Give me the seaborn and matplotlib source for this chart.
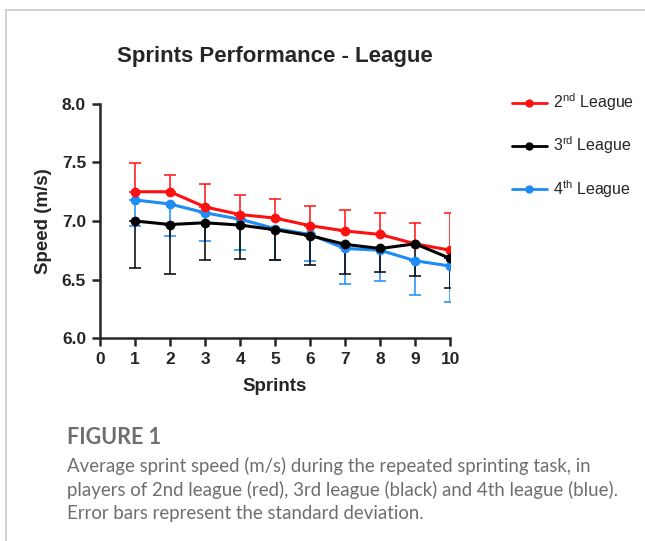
import numpy as np
import pandas as pd
import matplotlib.pyplot as plt
import seaborn as sns
from matplotlib.lines import Line2D

sprints = [1, 2, 3, 4, 5, 6, 7, 8, 9, 10]
mean_2nd = [7.25, 7.25, 7.12, 7.055, 7.025, 6.96, 6.915, 6.885, 6.805, 6.75]
sd_2nd = [0.245, 0.14, 0.20, 0.17, 0.165, 0.17, 0.18, 0.185, 0.18, 0.32]
mean_3rd = [7.00, 6.97, 6.985, 6.965, 6.925, 6.875, 6.80, 6.765, 6.805, 6.68]
sd_3rd = [0.40, 0.42, 0.315, 0.29, 0.26, 0.25, 0.25, 0.205, 0.275, 0.255]
mean_4th = [7.18, 7.145, 7.07, 7.015, 6.935, 6.885, 6.765, 6.75, 6.66, 6.615]
sd_4th = [0.22, 0.275, 0.24, 0.26, 0.27, 0.23, 0.30, 0.26, 0.29, 0.31]

sns.set_style("ticks")
plt.rcParams["font.family"] = ["Liberation Sans", "DejaVu Sans"]
plt.rcParams["mathtext.fontset"] = "custom"
plt.rcParams["mathtext.rm"] = "Liberation Sans"

fig = plt.figure(figsize=(6.45, 5.41), dpi=100)
ax = fig.add_axes([0.155, 0.3752, 0.543, 0.4326])

red = "#ff1010"
blk = "#000000"
blu = "#1e8cf5"

# (label, means, sds, colour, upper error bar?)
series = [
    ("4$^{\\mathregular{th}}$ League", mean_4th, sd_4th, blu, False),
    ("2$^{\\mathregular{nd}}$ League", mean_2nd, sd_2nd, red, True),
    ("3$^{\\mathregular{rd}}$ League", mean_3rd, sd_3rd, blk, False),
]

for label, m, s, c, up in series:
    m = np.array(m)
    s = np.array(s)
    yerr = [np.zeros_like(s), s] if up else [s, np.zeros_like(s)]
    ax.errorbar(sprints, m, yerr=yerr, fmt="none", ecolor=c, elinewidth=1.1,
                capsize=4, capthick=1.1, zorder=2)
    df = pd.DataFrame({"Sprints": sprints, "Speed": m})
    sns.lineplot(data=df, x="Sprints", y="Speed", color=c, linewidth=2.2,
                 marker="o", markersize=7, markeredgewidth=0, ax=ax, zorder=3)

ax.set_xlim(0, 10)
ax.set_ylim(6.0, 8.0)
ax.set_xticks(range(0, 11))
ax.set_yticks([6.0, 6.5, 7.0, 7.5, 8.0])
ax.set_yticklabels(["6.0", "6.5", "7.0", "7.5", "8.0"])
for sp in ["top", "right"]:
    ax.spines[sp].set_visible(False)
for sp in ["left", "bottom"]:
    ax.spines[sp].set_linewidth(1.8)
    ax.spines[sp].set_clip_on(False)
ax.tick_params(width=1.8, length=6, labelsize=12.5, pad=4)
for t in ax.get_xticklabels() + ax.get_yticklabels():
    t.set_fontweight("bold")

ax.set_xlabel("Sprints", fontsize=13.5, fontweight="bold", labelpad=8)
ax.set_ylabel("Speed (m/s)", fontsize=13.5, fontweight="bold", labelpad=7)
ax.set_title("Sprints Performance - League", fontsize=16, fontweight="bold", pad=30)

handles = [Line2D([], [], color=c, lw=2, marker="o", markersize=5)
           for c in [red, blk, blu]]
labels = ["2$^{\\mathregular{nd}}$ League", "3$^{\\mathregular{rd}}$ League",
          "4$^{\\mathregular{th}}$ League"]
ax.legend(handles, labels, loc="upper left", bbox_to_anchor=(1.135, 1.115),
          frameon=False, fontsize=11.5, labelspacing=1.35, handlelength=2.2,
          handletextpad=0.35)

# card border (top and left edges)
fig.add_artist(Line2D([0.009, 1.0], [0.981, 0.981], color="#c8c8c8", lw=1.2))
fig.add_artist(Line2D([0.009, 0.009], [0.0, 0.981], color="#c8c8c8", lw=1.2))

cap_font = ["Lato", "DejaVu Sans"]
fig.text(0.104, 1 - 437 / 541, "FIGURE 1", fontsize=15.5, color="#6e6e6e",
         family=cap_font, fontweight="bold", va="center")
caption = ["Average sprint speed (m/s) during the repeated sprinting task, in",
           "players of 2nd league (red), 3rd league (black) and 4th league (blue).",
           "Error bars represent the standard deviation."]
for i, line in enumerate(caption):
    fig.text(0.104, 1 - (466 + 23.5 * i) / 541, line, fontsize=13.4,
             color="#6e6e6e", family=cap_font, va="center")

fig.savefig("out.png", dpi=100)
